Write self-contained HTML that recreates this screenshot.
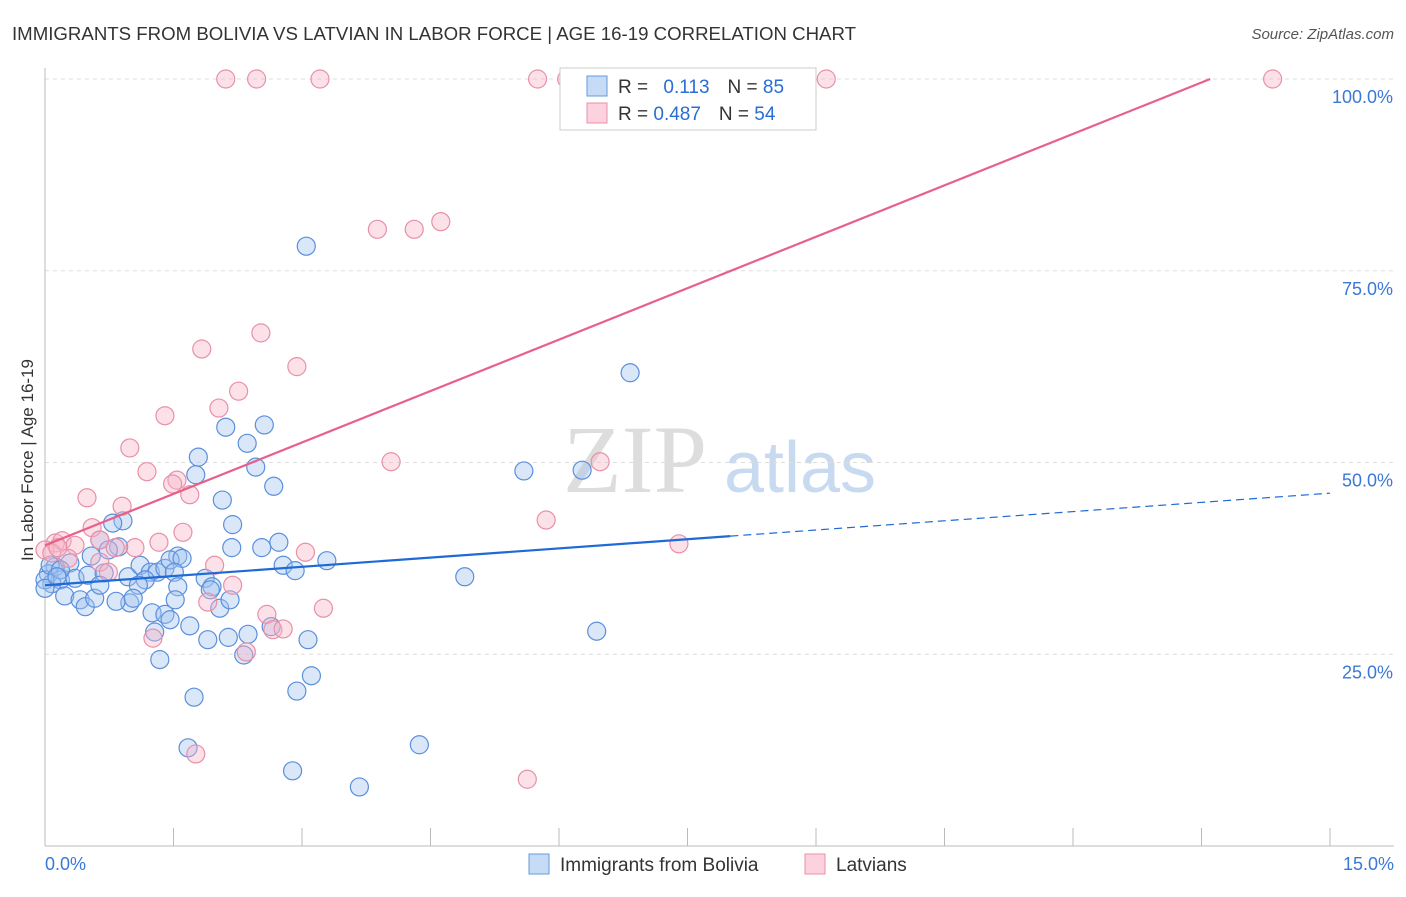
<!DOCTYPE html>
<html><head><meta charset="utf-8"><style>
body{margin:0;background:#fff;font-family:"Liberation Sans",sans-serif}
</style></head><body>
<svg id="chart" width="1406" height="892" xmlns="http://www.w3.org/2000/svg">
<text x="12" y="40" font-size="18" fill="#333" textLength="844" lengthAdjust="spacingAndGlyphs">IMMIGRANTS FROM BOLIVIA VS LATVIAN IN LABOR FORCE | AGE 16-19 CORRELATION CHART</text>
<text x="1394" y="39" font-size="15" fill="#555" font-style="italic" text-anchor="end">Source: ZipAtlas.com</text>
<text x="33" y="460" font-size="17" fill="#333" transform="rotate(-90 33 460)" text-anchor="middle">In Labor Force | Age 16-19</text>
<text x="635" y="492" font-size="96" fill="#ddd" font-family="Liberation Serif,serif" text-anchor="middle">ZIP</text>
<text x="800" y="492" font-size="72" fill="#c8daf0" text-anchor="middle">atlas</text>
<g id="grid"></g><g id="ticks"></g><g id="pts"></g><g id="lines"></g>
<g>
<rect x="560" y="68" width="256" height="62" fill="#fff" stroke="#ccc"/>
<rect x="587" y="76" width="20" height="20" fill="rgba(160,196,240,0.6)" stroke="#6699dd"/>
<rect x="587" y="103" width="20" height="20" fill="rgba(248,180,200,0.6)" stroke="#e890a8"/>
<text x="618" y="93" font-size="19" fill="#333">R = <tspan fill="#2a6dd4" dx="10">0.113</tspan><tspan fill="#333" dx="18">N = </tspan><tspan fill="#2a6dd4">85</tspan></text>
<text x="618" y="120" font-size="19" fill="#333">R = <tspan fill="#2a6dd4">0.487</tspan><tspan fill="#333" dx="18">N = </tspan><tspan fill="#2a6dd4">54</tspan></text>
</g>
<g>
<rect x="529" y="854" width="20" height="20" fill="rgba(160,196,240,0.6)" stroke="#6699dd"/>
<text x="560" y="871" font-size="19" fill="#333">Immigrants from Bolivia</text>
<rect x="805" y="854" width="20" height="20" fill="rgba(248,180,200,0.6)" stroke="#e890a8"/>
<text x="836" y="871" font-size="19" fill="#333">Latvians</text>
</g>
</svg>
<script>
const blueX=[3.05,6.83,2.56,2.36,2.11,1.79,1.76,2.46,2.67,2.07,2.19,0.91,0.79,0.64,0.86,0.74,0.54,0.29,0.12,0.04,0.18,0.35,0.50,0.69,0.97,1.11,1.23,1.31,1.40,1.55,1.46,1.60,1.51,1.17,1.09,1.55,1.87,1.95,2.18,2.53,2.73,2.78,2.92,3.29,0.08,0.23,0.41,0.47,0.58,0.99,0.83,1.03,1.25,1.40,1.46,2.04,1.69,1.28,1.90,2.14,2.37,2.64,3.07,2.32,1.34,2.94,3.11,1.74,1.67,2.89,3.67,4.37,4.90,5.59,6.27,6.44,0.00,0.06,0.18,0.00,1.93,2.16,0.64,0.14,1.52];
const blueY=[78.2,61.7,54.9,52.5,54.6,50.7,48.4,49.4,46.9,45.1,41.9,42.4,42.1,39.9,39.0,38.6,37.8,36.9,36.4,35.5,34.7,34.9,35.3,35.6,35.1,36.6,35.7,35.7,36.2,37.8,37.3,37.5,35.7,34.7,34.0,33.8,34.9,33.8,38.9,38.9,39.6,36.6,35.9,37.2,34.2,32.6,32.1,31.2,32.3,31.7,31.9,32.3,30.4,30.2,29.5,31.0,28.7,27.9,26.9,27.2,27.6,28.6,26.9,24.9,24.3,20.2,22.2,19.4,12.8,9.8,7.7,13.2,35.1,48.9,49.0,28.0,34.7,36.6,36.0,33.6,33.4,32.1,34.0,35.1,32.1];
const pinkX=[2.11,2.47,3.21,5.75,6.09,9.12,14.33,3.88,4.31,4.62,2.52,1.83,2.94,2.26,2.03,1.40,0.99,4.04,6.48,1.19,1.54,1.49,1.69,0.49,0.90,5.85,1.61,0.55,0.64,1.33,1.05,0.82,0.12,0.20,0.35,0.00,0.08,0.27,1.98,3.04,0.64,2.19,7.40,1.90,2.59,3.25,2.66,2.78,1.26,2.35,1.76,5.63,0.15,0.74];
const pinkY=[100,100,100,100,100,100,100,80.4,80.4,81.4,66.9,64.8,62.5,59.3,57.1,56.1,51.9,50.1,50.1,48.8,47.7,47.2,45.8,45.4,44.3,42.5,40.9,41.5,39.9,39.6,38.9,38.9,39.5,39.8,39.2,38.6,38.2,37.5,36.6,38.3,37.0,34.0,39.4,31.8,30.2,31.0,28.2,28.3,27.1,25.3,12.0,8.7,38.9,35.7];
const blueTrend=[34.0,0.8,8.0];
const pinkTrend=[39.2,4.47];
const yTicks=[25,50,75,100];
const xTicks=[0,1.5,3,4.5,6,7.5,9,10.5,12,13.5,15];
const NS="http://www.w3.org/2000/svg";
const sx=v=>45+v/15*1285, sy=v=>846-v/100*767;
function mk(p,t,a){const e=document.createElementNS(NS,t);for(const k in a)e.setAttribute(k,a[k]);document.getElementById(p).appendChild(e);return e;}
yTicks.forEach(t=>{
 const l=mk('grid','line',{x1:45,x2:1394,y1:sy(t),y2:sy(t),stroke:'#ddd','stroke-dasharray':'4,4'});
 
 
 const tx=mk('grid','text',{x:1393,y:sy(t)+24,'font-size':18,fill:'#3a78d8','text-anchor':'end'});tx.textContent=t.toFixed(1)+'%';
 
 
});
const ax=mk('ticks','line',{x1:45,x2:1394,y1:846,y2:846,stroke:'#bbb'});


const ay=mk('ticks','line',{x1:45,x2:45,y1:68,y2:846,stroke:'#bbb'});


xTicks.forEach(t=>{const l=mk('ticks','line',{x1:sx(t),x2:sx(t),y1:828,y2:846,stroke:'#bbb'});
 
 });
const xl=mk('ticks','text',{x:45,y:870,'font-size':18,fill:'#3a78d8'});xl.textContent='0.0%';


const xr=mk('ticks','text',{x:1394,y:870,'font-size':18,fill:'#3a78d8','text-anchor':'end'});xr.textContent='15.0%';


blueX.forEach((x,i)=>{const c=mk('pts','circle',{cx:sx(x),cy:sy(blueY[i]),r:9,fill:'rgba(160,196,240,0.4)',stroke:'#5b8fdc','stroke-width':1.2});
 
 });
pinkX.forEach((x,i)=>{const c=mk('pts','circle',{cx:sx(x),cy:sy(pinkY[i]),r:9,fill:'rgba(248,180,200,0.4)',stroke:'#e890a8','stroke-width':1.2});
 
 });
const pe=(100-pinkTrend[0])/pinkTrend[1];
const pl=mk('lines','line',{x1:sx(0),y1:sy(pinkTrend[0]),x2:sx(pe),y2:sy(100),stroke:'#e8608a','stroke-width':2.2});


const bl=mk('lines','line',{x1:sx(0),y1:sy(blueTrend[0]),x2:sx(blueTrend[2]),y2:sy(blueTrend[0]+blueTrend[1]*blueTrend[2]),stroke:'#1e6ad6','stroke-width':2.2});


const bd=mk('lines','line',{x1:sx(blueTrend[2]),y1:sy(blueTrend[0]+blueTrend[1]*blueTrend[2]),x2:sx(15),y2:sy(blueTrend[0]+blueTrend[1]*15),stroke:'#1e6ad6','stroke-width':1.2,'stroke-dasharray':'8,5'});


</script>
</body></html>
